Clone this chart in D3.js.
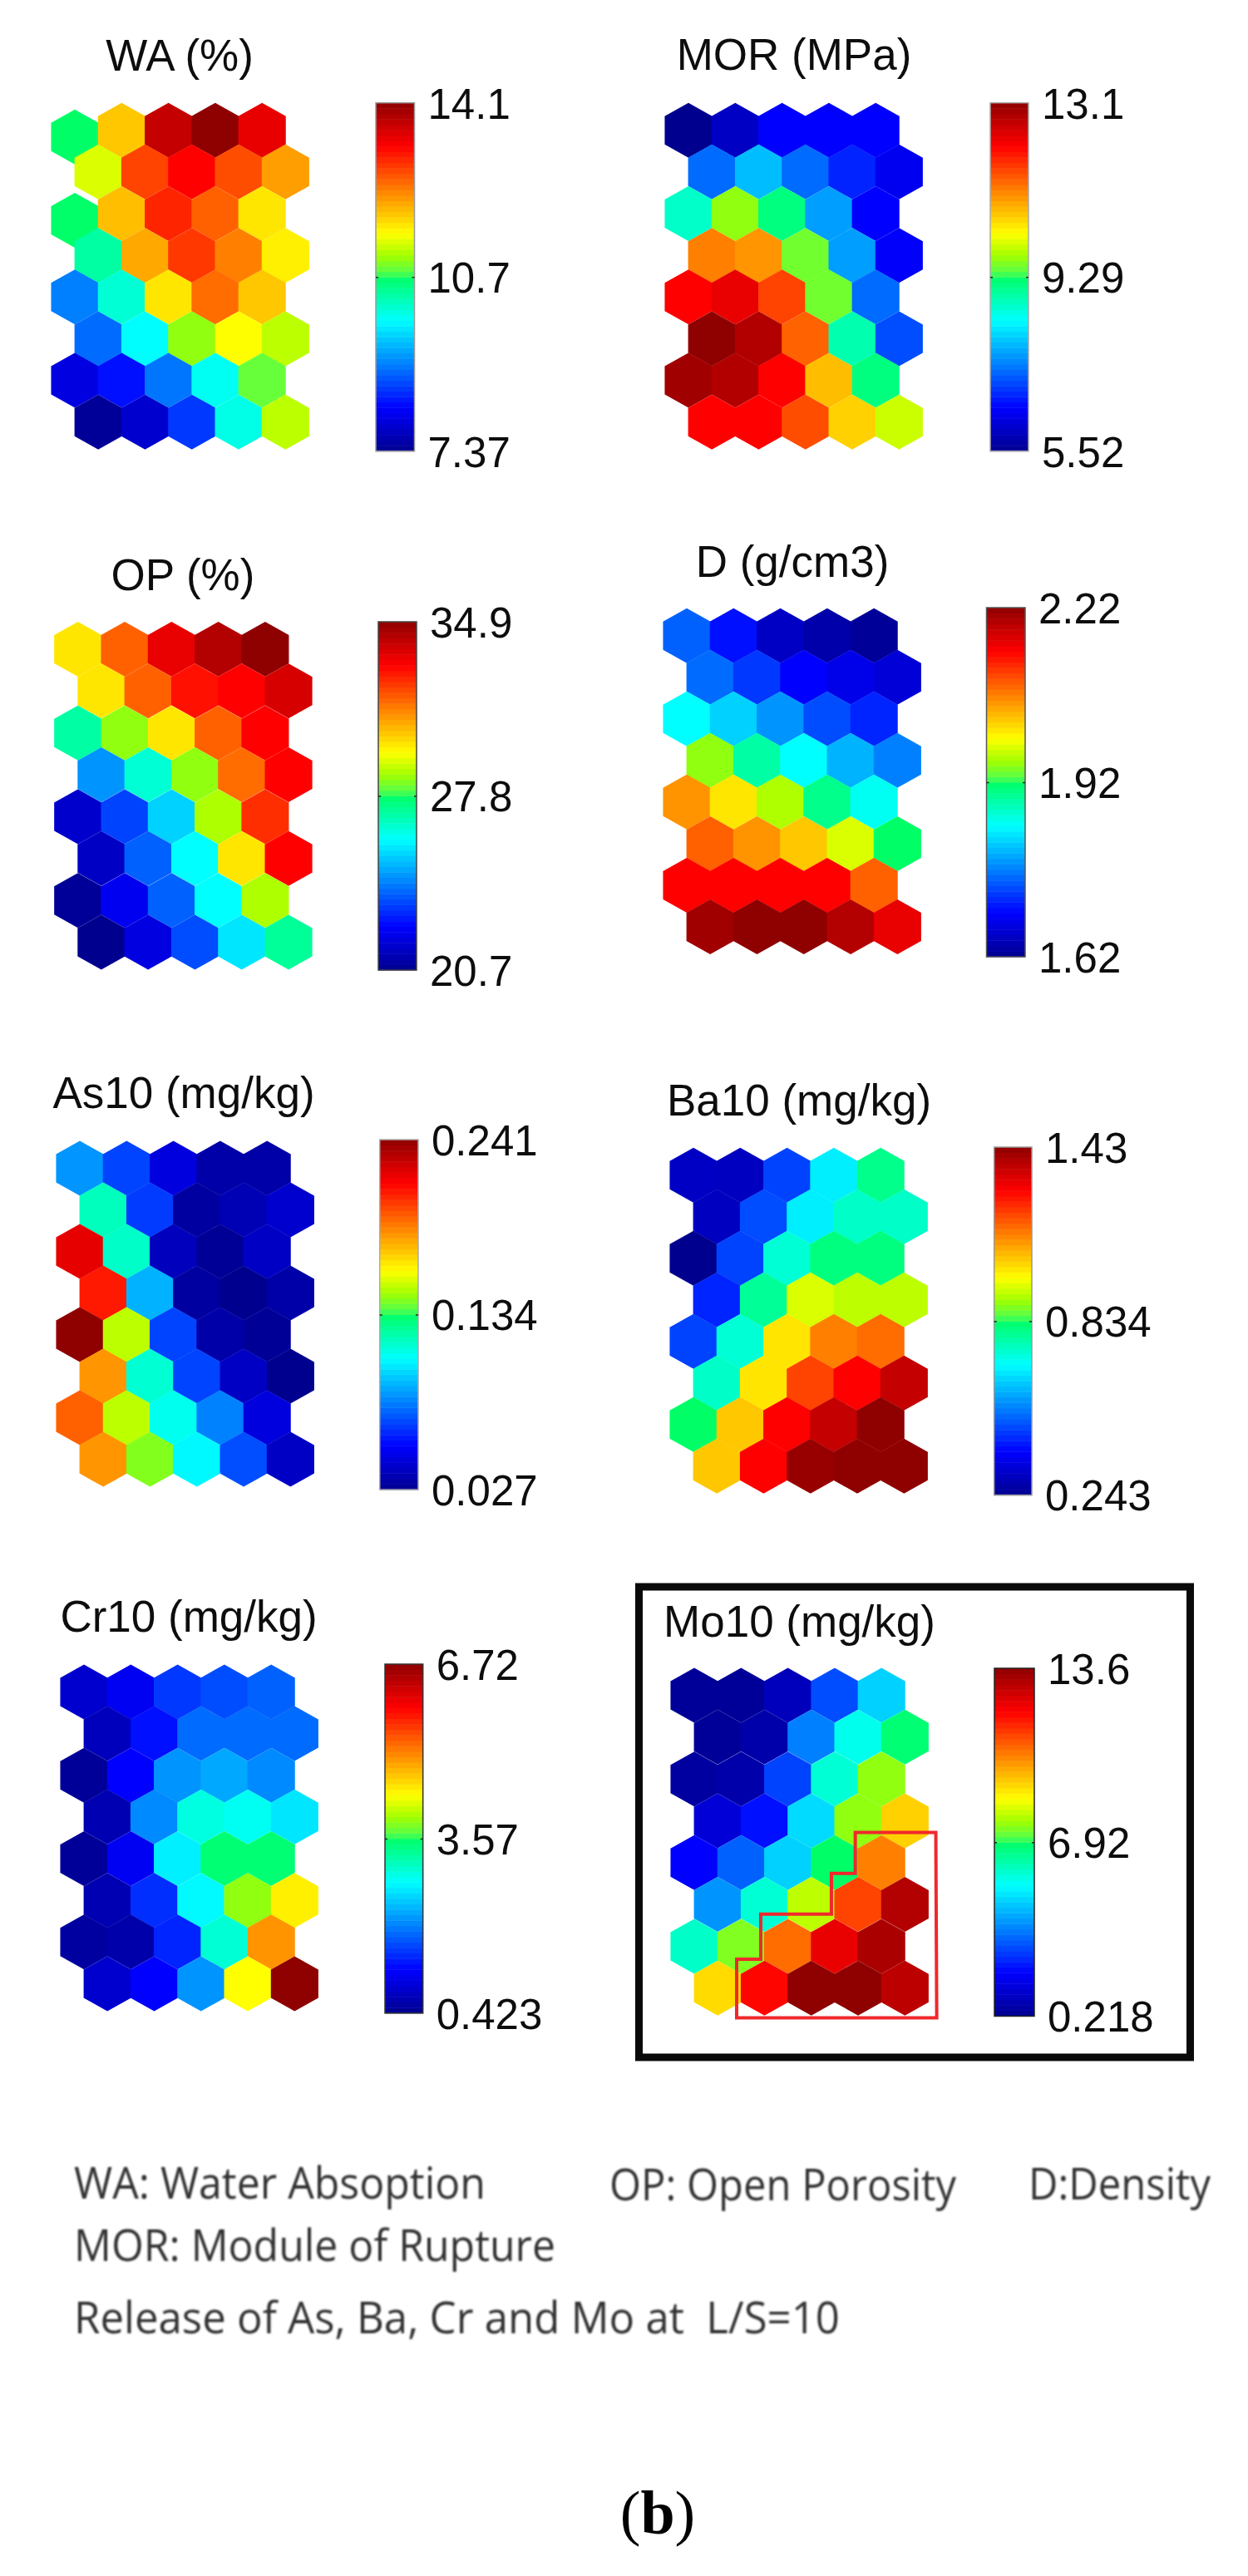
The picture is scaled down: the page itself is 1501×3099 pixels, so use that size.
<!DOCTYPE html>
<html><head><meta charset="utf-8">
<script src="https://cdn.jsdelivr.net/npm/d3@7"></script>
<style>html,body{margin:0;padding:0;background:#fff}svg{display:block}</style>
</head><body><svg id="c" width="1501" height="3099"></svg>
<script>
// ---- data: cell values, row by row (8 rows x 5 columns) ----
const titles = ["WA (%)","MOR (MPa)","OP (%)","D (g/cm3)","As10 (mg/kg)","Ba10 (mg/kg)","Cr10 (mg/kg)","Mo10 (mg/kg)"];
const tickLabels = [["7.37","10.7","14.1"],["5.52","9.29","13.1"],["20.7","27.8","34.9"],["1.62","1.92","2.22"],
  ["0.027","0.134","0.241"],["0.243","0.834","1.43"],["0.423","3.57","6.72"],["0.218","6.92","13.6"]];
const ranges = [[7.37,14.1],[5.52,13.1],[20.7,34.9],[1.62,2.22],[0.027,0.241],[0.243,1.43],[0.423,6.72],[0.218,13.6]];
const WA = [
 [10.73,11.95,13.70,14.1,13.43],[11.41,12.82,13.26,12.75,12.22],[10.72,12.01,13.02,12.62,11.74],[10.40,12.15,12.89,12.42,11.68],
 [9.05,10.13,11.74,12.55,11.95],[8.92,9.89,11.07,11.58,11.27],[7.98,8.31,8.99,9.96,10.90],[7.44,7.84,8.58,10.03,11.27]];
const MOR = [
 [5.52,5.97,6.47,6.47,6.47],[7.26,7.87,7.26,6.73,6.35],[8.70,9.69,9.16,7.64,6.47],[11.21,11.05,9.54,7.64,6.43],
 [12.15,12.34,11.66,9.54,7.26],[13.1,12.80,11.43,8.86,7.04],[12.95,12.80,12.15,10.75,9.16],[12.15,12.15,11.58,10.60,9.99]];
const OP = [
 [29.93,31.78,33.48,34.33,34.9],[29.93,31.78,32.91,33.13,33.76],[27.09,28.51,29.93,31.78,33.13],[24.53,26.52,28.51,31.63,33.13],
 [21.69,23.40,25.39,28.79,32.49],[21.55,23.82,26.03,29.93,33.13],[20.84,22.26,23.82,26.03,28.79],[20.7,21.98,23.54,25.67,27.23]];
const D = [
 [1.752,1.704,1.656,1.638,1.626],[1.758,1.728,1.695,1.68,1.668],[1.845,1.818,1.782,1.74,1.716],[1.95,1.89,1.845,1.80,1.77],
 [2.058,2.01,1.962,1.902,1.851],[2.088,2.058,2.028,1.98,1.92],[2.145,2.145,2.145,2.145,2.088],[2.208,2.22,2.22,2.196,2.16]];
const As10 = [
 [.085,.068,.046,.033,.033],[.119,.066,.031,.036,.042],[.220,.117,.038,.029,.040],[.209,.091,.031,.027,.033],
 [.241,.151,.068,.033,.029],[.183,.115,.068,.040,.027],[.194,.151,.110,.081,.046],[.183,.143,.106,.070,.040]];
const Ba10 = [
 [.314,.308,.469,.670,.801],[.308,.480,.670,.742,.742],[.243,.469,.730,.813,.813],[.433,.789,.955,.931,.931],
 [.469,.730,1.015,1.133,1.157],[.742,1.015,1.204,1.282,1.359],[.836,1.050,1.282,1.359,1.43],[1.050,1.282,1.418,1.43,1.43]];
const Cr10 = [
 [.864,1.116,1.556,1.682,1.808],[.738,1.305,1.871,1.871,1.871],[.486,1.210,2.123,2.249,2.060],[.675,2.060,2.942,2.847,2.627],
 [.486,1.116,2.690,3.509,3.509],[.675,1.493,2.753,3.886,4.453],[.549,.612,1.430,3.005,5.020],[.864,1.210,2.123,4.359,6.72]];
const Mo10 = [
 [.352,.352,.887,2.894,4.634],[.352,.619,3.564,5.437,6.775],[.486,.619,2.761,5.705,7.578],[1.289,2.091,4.768,7.578,9.184],
 [1.891,3.162,4.634,6.905,10.255],[3.831,5.705,7.980,11.057,13.065],[5.838,7.444,10.522,12.262,13.199],[9.050,11.860,13.6,13.6,12.931]];
const series = [WA,MOR,OP,D,As10,Ba10,Cr10,Mo10];
// highlighted cluster on the Mo10 map, in grid units (column, row)
const regionCols = [0.906,5.18,5.16,3.44,3.44,2.93,2.93,1.42,1.42,0.906];
const regionRows = [7.71,7.71,3.28,3.28,4.26,4.26,5.23,5.23,6.31,6.31];
const notes = [
 ["WA: Water Absoption",89,2645,495],["OP: Open Porosity",733,2647,417],["D:Density",1237,2646,219],
 ["MOR: Module of Rupture",89,2720,579],["Release of As, Ba, Cr and Mo at  L/S=10",89,2807,921]];

// ---- layout ----
const layout = [
 {x0:90, top:123.7, bottom:540.7, bar:[452,498.5], barY:[123.7,542.7], titleX:216, titleY:85,  frame:"#999", nudge:[[0,0],[2,0]]},
 {x0:828,top:123.7, bottom:540.7, bar:[1191,1237],barY:[123.7,542.7], titleX:955, titleY:84,  frame:"#aaa", nudge:[]},
 {x0:93.7,top:748,  bottom:1166.5,bar:[455,501],  barY:[748,1167],    titleX:220, titleY:710, frame:"#444", nudge:[]},
 {x0:826,top:731.7, bottom:1148,  bar:[1186.5,1233],barY:[731,1151],  titleX:953, titleY:693.5,frame:"#555",nudge:[]},
 {x0:96, top:1372.5,bottom:1788.6,bar:[456.7,503],barY:[1371,1792],   titleX:221, titleY:1333,frame:"#aaa", nudge:[]},
 {x0:834,top:1380.7,bottom:1796.8,bar:[1195.7,1241],barY:[1380,1798.6],titleX:961,titleY:1342,frame:"#999", nudge:[]},
 {x0:101,top:2002.4,bottom:2419.5,bar:[463,508.7],barY:[2002,2421.8], titleX:227, titleY:1963,frame:"#333", nudge:[]},
 {x0:835,top:2006.5,bottom:2424.7,bar:[1196,1244],barY:[2007,2425.5], titleX:961.5,titleY:1969,frame:"#222",nudge:[]}
];
const step = 56.3, cap = 16, sans = "'Liberation Sans',Arial,sans-serif";
const jetStops = [0,.125,.25,.375,.44,.5,.51,.56,.625,.75,.875,1];
const jetColors = ["#00008f","#0000ff","#0080ff","#00ffff","#00ffb0","#00ff66","#50ff50","#a0ff00","#ffff00","#ff8000","#ff0000","#8f0000"];

const svg = d3.select("#c");
const defs = svg.append("defs");
defs.append("filter").attr("id","soft").append("feGaussianBlur").attr("stdDeviation",0.6);
defs.append("filter").attr("id","softer").attr("x","-5%").attr("width","110%").attr("y","-30%").attr("height","160%")
  .append("feGaussianBlur").attr("stdDeviation",1);
svg.append("rect").attr("width",1501).attr("height",3099).attr("fill","#fff");

series.forEach((grid,p)=>{
  const L = layout[p], [lo,hi] = ranges[p];
  const g = svg.append("g");
  const color = d3.scaleLinear().domain(jetStops.map(s=>lo+s*(hi-lo))).range(jetColors).interpolate(d3.interpolateRgb);
  const hexH = 66, rowStep = (L.bottom-L.top-hexH)/7;
  const x = d3.scaleLinear().domain([0,1]).range([L.x0,L.x0+step]);
  const y = d3.scaleLinear().domain([0,1]).range([L.top+hexH/2,L.top+hexH/2+rowStep]);
  const hexPath = d3.line();
  const hw = step/2+0.4, hh = hexH/2;
  const shape = [[0,-hh],[hw,-hh+cap],[hw,hh-cap],[0,hh],[-hw,hh-cap],[-hw,-hh+cap]];
  const cells = grid.flatMap((row,r)=>row.map((v,c)=>({r,c,v})));
  g.selectAll("path.hex").data(cells).join("path").attr("class","hex")
    .attr("d",hexPath(shape)+"Z")
    .attr("fill",d=>color(d.v))
    .attr("transform",d=>{
      const dy = L.nudge.some(n=>n[0]===d.r&&n[1]===d.c)?8:0;
      return `translate(${x(d.c+(d.r%2?0.5:0))},${y(d.r)+dy})`;
    });
  // title
  g.append("text").text(titles[p]).attr("x",L.titleX).attr("y",L.titleY)
    .attr("text-anchor","middle").attr("font-family",sans).attr("font-size",53).attr("fill","#111")
    .attr("filter","url(#soft)");
  // colour bar
  const yBar = d3.scaleLinear().domain([lo,hi]).range([L.barY[1],L.barY[0]]);
  const levels = d3.range(64);
  const h = (L.barY[1]-L.barY[0])/64;
  g.selectAll("rect.lv").data(levels).join("rect").attr("class","lv")
    .attr("x",L.bar[0]).attr("width",L.bar[1]-L.bar[0])
    .attr("y",i=>yBar(lo+(i+1)/64*(hi-lo))).attr("height",h+0.5)
    .attr("fill",i=>color(lo+(i+0.5)/64*(hi-lo)));
  g.append("rect").attr("x",L.bar[0]).attr("y",L.barY[0]).attr("width",L.bar[1]-L.bar[0])
    .attr("height",L.barY[1]-L.barY[0]).attr("fill","none").attr("stroke",L.frame).attr("stroke-width",1.5);
  const mid = (lo+hi)/2;
  const axis = d3.axisRight(yBar).tickValues([lo,mid,hi]).tickFormat((d,i)=>tickLabels[p][i]).tickSize(0).tickPadding(16);
  const ax = g.append("g").attr("transform",`translate(${L.bar[1]},0)`).call(axis);
  ax.select(".domain").remove();
  ax.selectAll("text").attr("font-family",sans).attr("font-size",51).attr("fill","#111").attr("dy","0.36em")
    .attr("filter","url(#soft)");
  [[d3.axisRight,L.bar[0]],[d3.axisLeft,L.bar[1]]].forEach(([mk,px])=>{
    const t = g.append("g").attr("transform",`translate(${px},0)`)
      .call(mk(yBar).tickValues([mid]).tickFormat("").tickSize(3));
    t.select(".domain").remove();
    t.selectAll("line").attr("stroke","#222").attr("stroke-width",1.5);
  });
});

// Mo10 highlight
{
  const L = layout[7], rowStep = (L.bottom-L.top-66)/7;
  const x = d3.scaleLinear().domain([0,1]).range([L.x0,L.x0+step]);
  const y = d3.scaleLinear().domain([0,1]).range([L.top+33,L.top+33+rowStep]);
  svg.append("path").attr("d",d3.line().x(i=>x(regionCols[i])).y(i=>y(regionRows[i]))(d3.range(regionCols.length))+"Z")
    .attr("fill","none").attr("stroke","#f0282c").attr("stroke-width",4);
  svg.append("rect").attr("x",768.5).attr("y",1909).attr("width",663).attr("height",566)
    .attr("fill","none").attr("stroke","#0a0a0a").attr("stroke-width",9);
}

// notes
svg.selectAll("text.note").data(notes).join("text").attr("class","note")
  .text(d=>d[0]).attr("x",d=>d[1]).attr("y",d=>d[2])
  .attr("textLength",d=>d[3]).attr("lengthAdjust","spacingAndGlyphs")
  .style("white-space","pre")
  .attr("font-family","'Open Sans',sans-serif").attr("font-size",53).attr("fill","#333")
  .attr("filter","url(#softer)");

const b = svg.append("text").attr("x",791).attr("y",3048).attr("text-anchor","middle")
  .attr("font-family","'Liberation Serif',serif").attr("font-size",74).attr("fill","#000");
b.append("tspan").text("(");
b.append("tspan").attr("font-weight","bold").text("b");
b.append("tspan").text(")");
</script></body></html>
